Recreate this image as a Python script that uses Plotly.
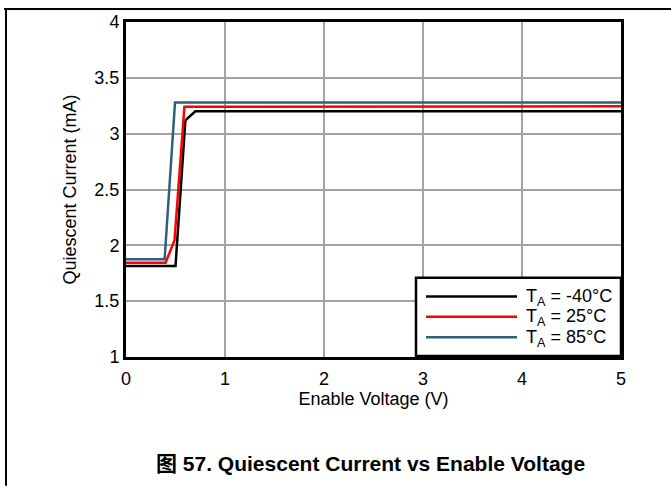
import plotly.graph_objects as go

# Data
v_m40 = [0, 0.1, 0.2, 0.3, 0.4, 0.5, 0.6, 0.7, 1, 2, 3, 4, 5]
i_m40 = [1.815, 1.815, 1.815, 1.815, 1.815, 1.815, 3.12, 3.20, 3.20, 3.20, 3.20, 3.20, 3.20]
v_25 = [0, 0.1, 0.2, 0.3, 0.4, 0.49, 0.59, 0.7, 1, 2, 3, 4, 5]
i_25 = [1.845, 1.845, 1.845, 1.845, 1.845, 2.045, 3.24, 3.24, 3.24, 3.24, 3.24, 3.24, 3.245]
v_85 = [0, 0.1, 0.2, 0.3, 0.39, 0.495, 0.6, 0.7, 1, 2, 3, 4, 5]
i_85 = [1.875, 1.875, 1.875, 1.875, 1.875, 3.28, 3.28, 3.28, 3.28, 3.28, 3.28, 3.28, 3.28]
series_names = ["T<sub>A</sub> = -40°C", "T<sub>A</sub> = 25°C", "T<sub>A</sub> = 85°C"]
series_colors = ["#000000", "#ff0000", "#2f5f7a"]
x_ticks = [0, 1, 2, 3, 4, 5]
y_ticks = [1, 1.5, 2, 2.5, 3, 3.5, 4]
y_tick_text = ["1", "1.5", "2", "2.5", "3", "3.5", "4"]

W, H = 671, 487
L, R, T, B = 126, 621, 19, 357
pw, ph = R - L, B - T

def px(x):
    return (x - L) / pw

def py(y):
    return (B - y) / ph

fig = go.Figure()
for xs, ys, name, c in zip([v_m40, v_25, v_85], [i_m40, i_25, i_85], series_names, series_colors):
    fig.add_trace(go.Scatter(x=xs, y=ys, mode="lines", name=name,
                             line=dict(color=c, width=2.5), showlegend=False))

font = dict(family="Liberation Sans, Arial, sans-serif", size=18, color="#000")

fig.update_layout(
    width=W, height=H,
    margin=dict(l=L, r=W - R, t=T, b=H - B),
    paper_bgcolor="white", plot_bgcolor="white",
    font=font,
    xaxis=dict(range=[0, 5], tickvals=x_ticks, showgrid=True, gridcolor="#a3a3a3", gridwidth=2,
               showline=True, linecolor="black", linewidth=3, mirror=True, ticks="",
               ticklabelstandoff=3,
               zeroline=False, title=dict(text="Enable Voltage (V)", standoff=1, font=font)),
    yaxis=dict(range=[1, 4], tickvals=y_ticks, ticktext=y_tick_text, showgrid=True,
               gridcolor="#a3a3a3", gridwidth=2, showline=True, linecolor="black", linewidth=3,
               mirror=True, ticks="", zeroline=False,
               title=dict(text="Quiescent Current (mA)", standoff=14, font=font)),
)

shapes = []
# outer frame lines (top and left)
shapes.append(dict(type="line", xref="paper", yref="paper", x0=px(4), x1=px(671), y0=py(6), y1=py(6),
                   line=dict(color="black", width=2)))
shapes.append(dict(type="line", xref="paper", yref="paper", x0=px(6), x1=px(6), y0=py(5), y1=py(487),
                   line=dict(color="black", width=2)))
# legend box
shapes.append(dict(type="rect", xref="paper", yref="paper", x0=px(416), x1=px(621), y0=py(356), y1=py(277),
                   line=dict(color="black", width=2.5), fillcolor="white", layer="above"))
annotations = []
for k, (name, c) in enumerate(zip(series_names, series_colors)):
    yy = 296 + k * 20.5
    shapes.append(dict(type="line", xref="paper", yref="paper", x0=px(426), x1=px(517), y0=py(yy), y1=py(yy),
                       line=dict(color=c, width=2.5), layer="above"))
    annotations.append(dict(xref="paper", yref="paper", x=px(524), y=py(yy + 1), text=name, showarrow=False,
                            xanchor="left", yanchor="middle", font=font))
annotations.append(dict(xref="paper", yref="paper", x=px(370), y=py(464),
                        text="<b>图 57. Quiescent Current vs Enable Voltage</b>", showarrow=False,
                        xanchor="center", yanchor="middle",
                        font=dict(family="Liberation Sans, Noto Sans CJK SC, sans-serif", size=21, color="#000")))
fig.update_layout(shapes=shapes, annotations=annotations)

fig.write_html("out.html", config={"displayModeBar": False},
               post_script="document.body.style.margin='0';")
